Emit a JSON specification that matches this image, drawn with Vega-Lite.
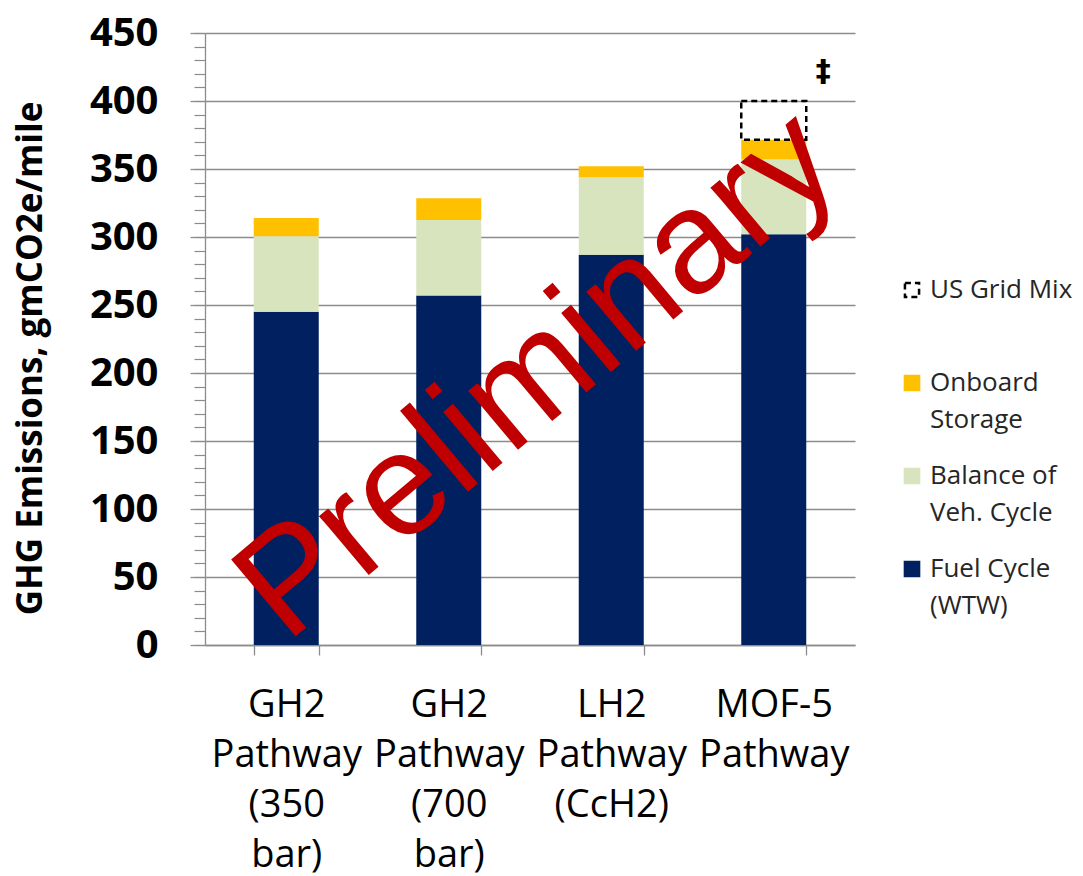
{
  "$schema": "https://vega.github.io/schema/vega-lite/v6.json",
  "width": 650,
  "height": 612,
  "autosize": "none",
  "padding": {"left": 205, "top": 33, "right": 228, "bottom": 231},
  "background": "white",
  "config": {
    "view": {"stroke": null},
    "font": "Open Sans",
    "style": {"guide-label": {"lineHeight": 37}}
  },
  "data": {
    "values": [
      {"pathway": "GH2 Pathway (350 bar)", "component": "Fuel Cycle (WTW)", "gCO2e": 245},
      {"pathway": "GH2 Pathway (350 bar)", "component": "Balance of Veh. Cycle", "gCO2e": 55.5},
      {"pathway": "GH2 Pathway (350 bar)", "component": "Onboard Storage", "gCO2e": 13.5},
      {"pathway": "GH2 Pathway (700 bar)", "component": "Fuel Cycle (WTW)", "gCO2e": 257},
      {"pathway": "GH2 Pathway (700 bar)", "component": "Balance of Veh. Cycle", "gCO2e": 55.5},
      {"pathway": "GH2 Pathway (700 bar)", "component": "Onboard Storage", "gCO2e": 16},
      {"pathway": "LH2 Pathway (CcH2)", "component": "Fuel Cycle (WTW)", "gCO2e": 287},
      {"pathway": "LH2 Pathway (CcH2)", "component": "Balance of Veh. Cycle", "gCO2e": 57},
      {"pathway": "LH2 Pathway (CcH2)", "component": "Onboard Storage", "gCO2e": 8},
      {"pathway": "MOF-5 Pathway", "component": "Fuel Cycle (WTW)", "gCO2e": 302},
      {"pathway": "MOF-5 Pathway", "component": "Balance of Veh. Cycle", "gCO2e": 55},
      {"pathway": "MOF-5 Pathway", "component": "Onboard Storage", "gCO2e": 14.5},
      {"pathway": "MOF-5 Pathway", "component": "US Grid Mix", "gCO2e": 28.5}
    ]
  },
  "resolve": {"axis": {"y": "independent"}},
  "layer": [
    {
      "transform": [
        {"calculate": "indexof(['Fuel Cycle (WTW)', 'Balance of Veh. Cycle', 'Onboard Storage', 'US Grid Mix'], datum.component)", "as": "stackRank"}
      ],
      "mark": {"type": "bar"},
      "encoding": {
        "x": {
          "field": "pathway",
          "type": "nominal",
          "sort": null,
          "scale": {"paddingInner": 0.6, "paddingOuter": 0.3},
          "axis": {
            "title": null,
            "labelExpr": "split(datum.label, ' ')",
            "labelFont": "Open Sans",
            "labelFontSize": 38,
            "labelColor": "#000000",
            "labelLineHeight": 50,
            "labelPadding": 31,
            "labelAngle": 0,
            "labelLimit": 0,
            "tickBand": "extent",
            "tickSize": 10,
            "tickColor": "#8c8c8c",
            "tickWidth": 1.3,
            "domainColor": "#8c8c8c",
            "domainWidth": 1.3
          }
        },
        "y": {
          "field": "gCO2e",
          "type": "quantitative",
          "stack": "zero",
          "scale": {"domain": [0, 450], "nice": false},
          "axis": {
            "title": "GHG Emissions, gmCO2e/mile",
            "titleFont": "Open Sans",
            "titleFontSize": 35,
            "titleFontWeight": "bold",
            "titleColor": "#000000",
            "titlePadding": 41,
            "titleY": 325,
            "labelFont": "Open Sans",
            "labelFontSize": 40,
            "labelFontWeight": "bold",
            "labelColor": "#000000",
            "labelPadding": 32,
            "tickCount": 9,
            "tickSize": 15,
            "tickColor": "#8c8c8c",
            "tickWidth": 1.3,
            "domainColor": "#8c8c8c",
            "domainWidth": 1.3,
            "grid": true,
            "gridColor": "#8c8c8c",
            "gridWidth": 1.3
          }
        },
        "color": {
          "field": "component",
          "type": "nominal",
          "scale": {
            "domain": ["US Grid Mix", "Onboard Storage", "Balance of Veh. Cycle", "Fuel Cycle (WTW)"],
            "range": ["transparent", "#FFC000", "#D7E4BD", "#002060"]
          },
          "legend": {
            "orient": "none",
            "legendX": 694,
            "legendY": 244,
            "title": null,
            "padding": 0,
            "labelFont": "Open Sans",
            "labelFontSize": 26,
            "labelColor": "#262626",
            "labelLimit": 0,
            "labelOffset": 5,
            "labelBaseline": "middle",
            "labelExpr": "datum.label == 'Onboard Storage' ? ['Onboard', 'Storage'] : datum.label == 'Balance of Veh. Cycle' ? ['Balance of', 'Veh. Cycle'] : datum.label == 'Fuel Cycle (WTW)' ? ['Fuel Cycle', '(WTW)'] : [datum.label, '']",
            "symbolType": "square",
            "symbolSize": 200,
            "symbolStrokeWidth": 2.5,
            "rowPadding": 30
          }
        },
        "stroke": {
          "field": "component",
          "type": "nominal",
          "scale": {
            "domain": ["US Grid Mix", "Onboard Storage", "Balance of Veh. Cycle", "Fuel Cycle (WTW)"],
            "range": ["#000000", "#FFC000", "#D7E4BD", "#002060"]
          }
        },
        "strokeDash": {
          "field": "component",
          "type": "nominal",
          "scale": {
            "domain": ["US Grid Mix", "Onboard Storage", "Balance of Veh. Cycle", "Fuel Cycle (WTW)"],
            "range": [[6, 4], [1, 0], [1, 0], [1, 0]]
          }
        },
        "order": {"field": "stackRank", "type": "quantitative"},
        "strokeWidth": {"condition": {"test": "datum.component === 'US Grid Mix'", "value": 2.5}, "value": 0}
      }
    },
    {
      "mark": {"type": "point", "opacity": 0},
      "encoding": {
        "y": {
          "field": "gCO2e",
          "type": "quantitative",
          "axis": {
            "orient": "left",
            "tickCount": 45,
            "labels": false,
            "domain": false,
            "grid": false,
            "title": null,
            "tickSize": 11,
            "tickColor": "#8c8c8c",
            "tickWidth": 1.2
          }
        }
      }
    },
    {
      "data": {"values": [{"note": "Preliminary"}]},
      "mark": {
        "type": "text",
        "font": "Liberation Sans",
        "fontSize": 146,
        "angle": -40,
        "color": "#C00000",
        "align": "center",
        "baseline": "middle"
      },
      "encoding": {
        "text": {"field": "note"},
        "x": {"datum": "GH2 Pathway (700 bar)", "type": "nominal", "bandPosition": 1.87},
        "y": {"datum": 198, "type": "quantitative", "axis": null}
      }
    },
    {
      "data": {"values": [{"note": "‡"}]},
      "mark": {
        "type": "text",
        "font": "DejaVu Sans",
        "fontWeight": "bold",
        "fontSize": 30,
        "color": "#000000",
        "align": "center",
        "baseline": "middle"
      },
      "encoding": {
        "text": {"field": "note"},
        "x": {"datum": "MOF-5 Pathway", "type": "nominal", "bandPosition": 1.26},
        "y": {"datum": 421, "type": "quantitative", "axis": null}
      }
    }
  ]
}
